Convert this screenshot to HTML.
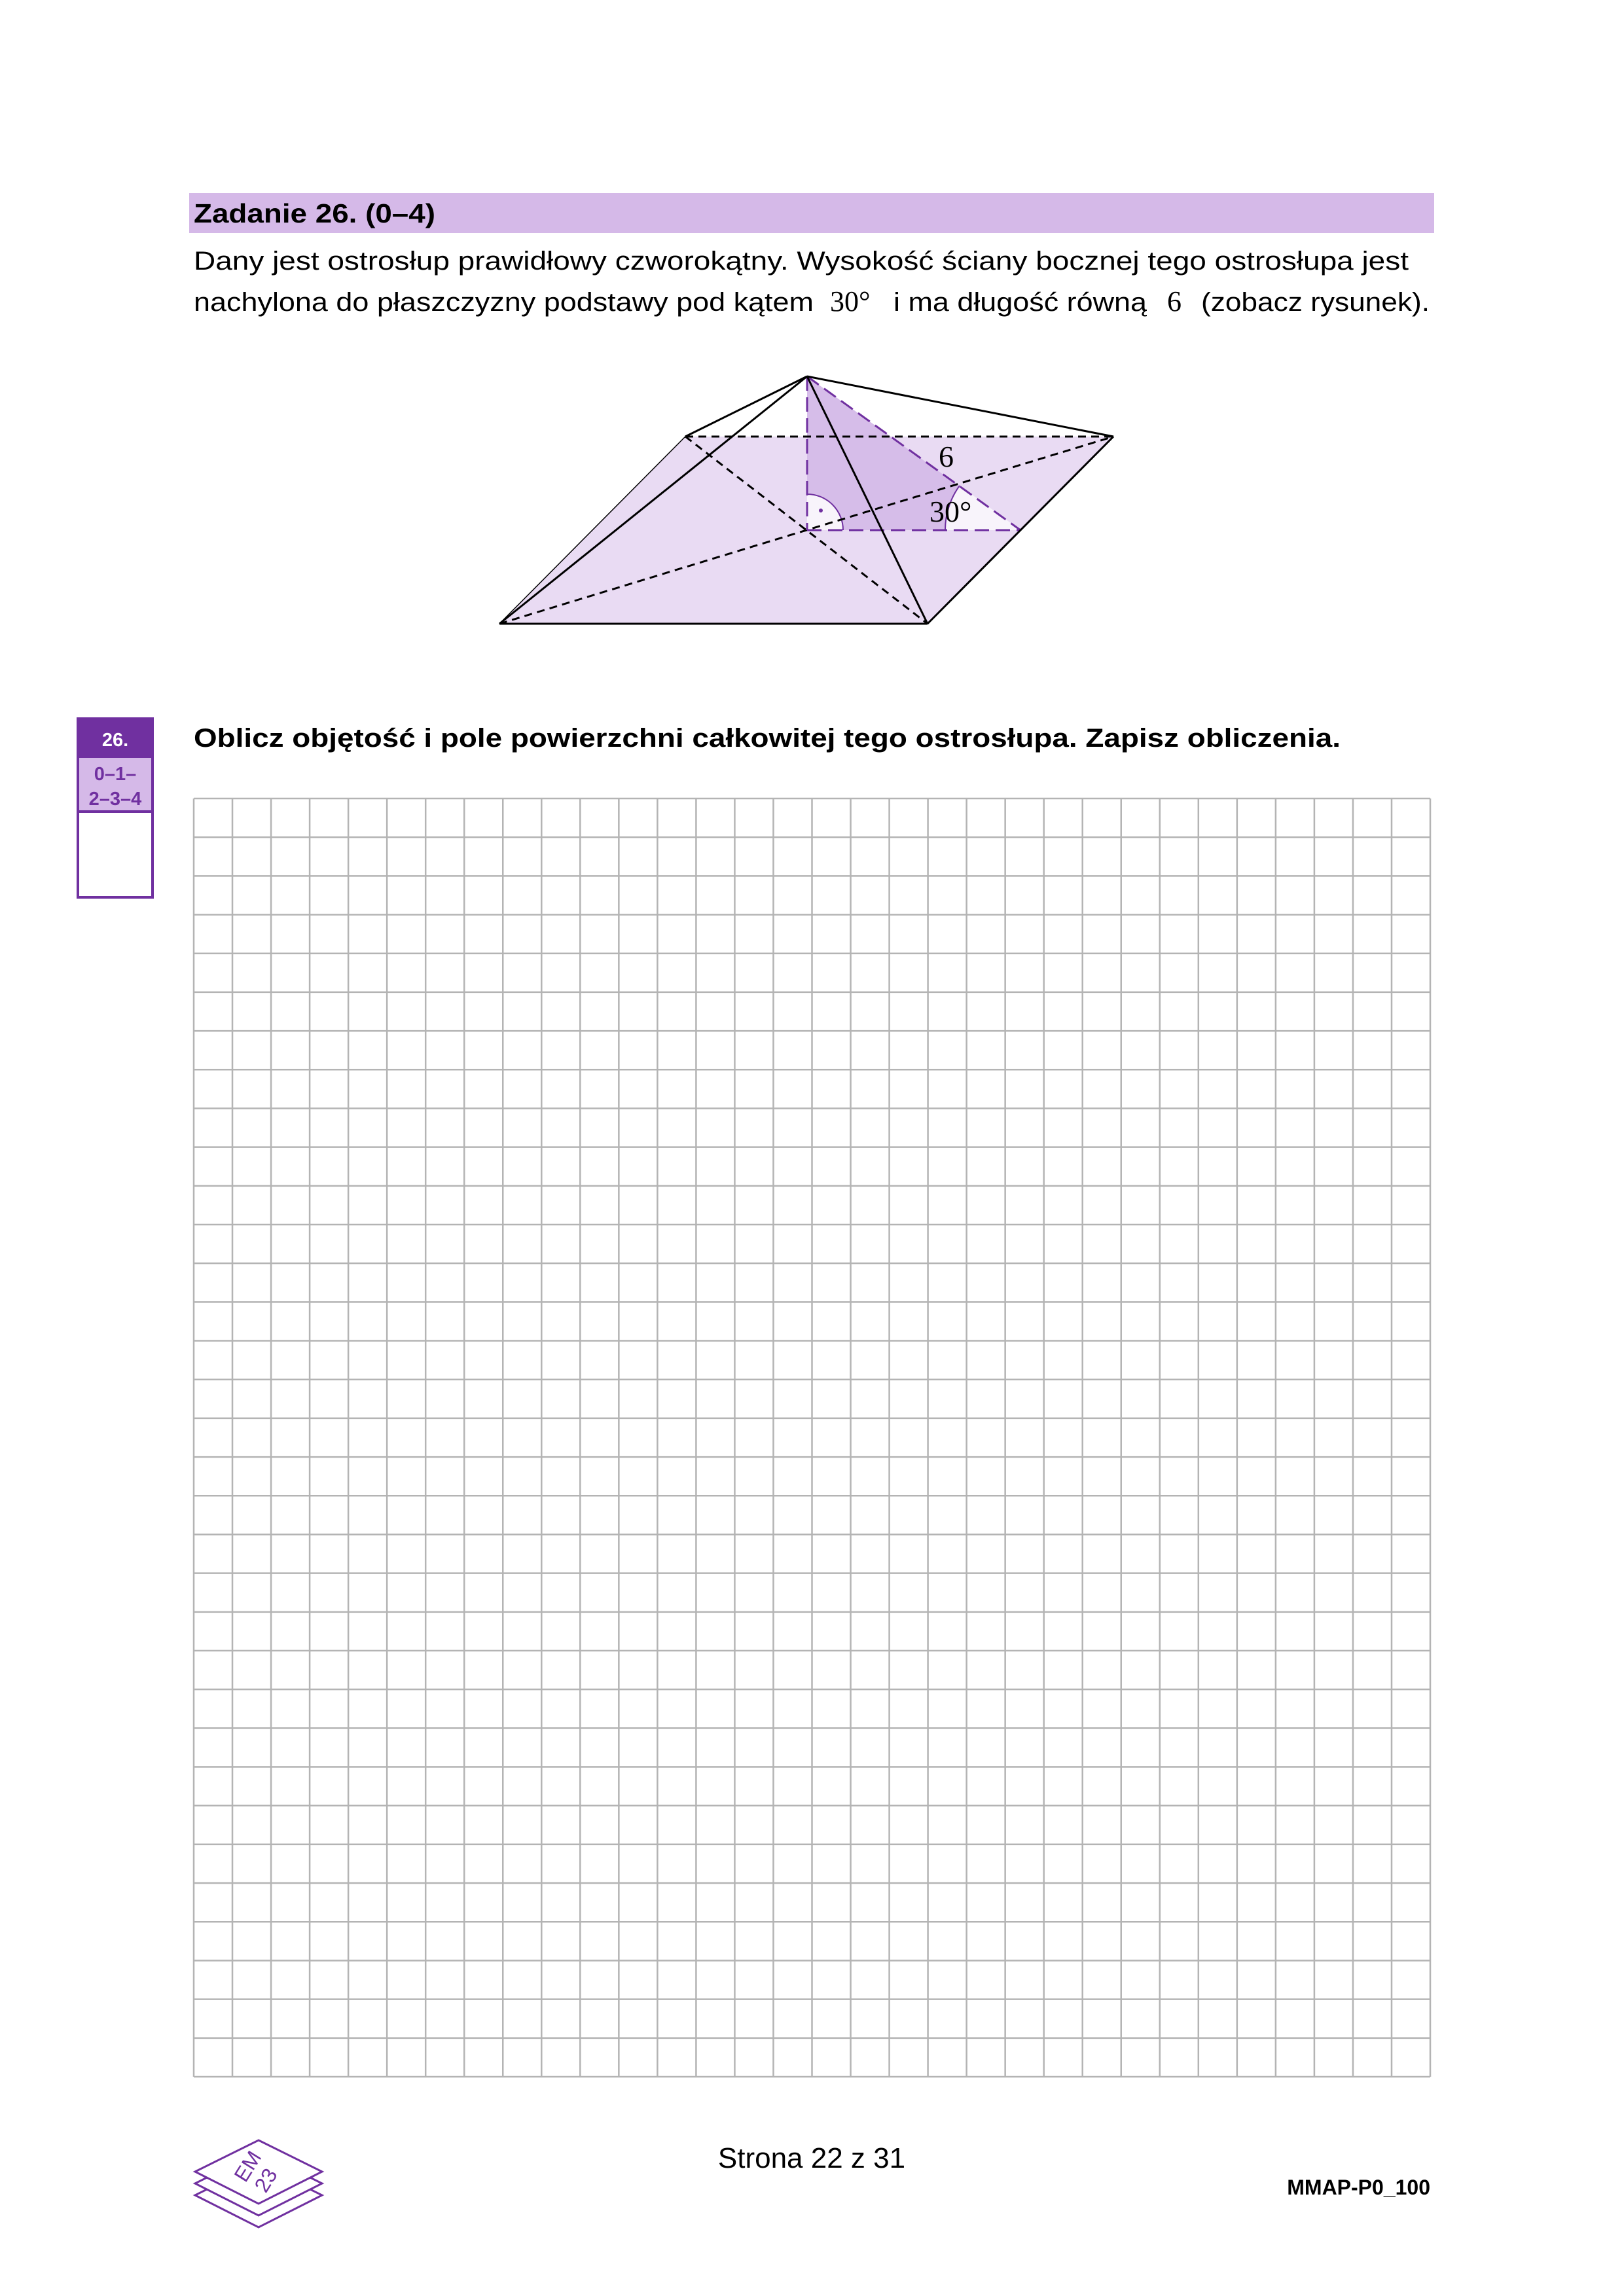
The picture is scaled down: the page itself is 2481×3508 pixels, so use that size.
<!DOCTYPE html>
<html><head><meta charset="utf-8"><style>
html,body{margin:0;padding:0;background:#fff}
svg{display:block}
.sans{font-family:"Liberation Sans",sans-serif}
.serif{font-family:"Liberation Serif",serif}
</style></head><body>
<svg width="2481" height="3508" viewBox="0 0 2481 3508" xmlns="http://www.w3.org/2000/svg" class="sans">
<rect x="289" y="295" width="1902" height="61" fill="#d5b9e8"/>
<text class="sans" x="296" y="340" font-size="41" font-weight="bold" textLength="369" lengthAdjust="spacingAndGlyphs">Zadanie 26. (0–4)</text>
<text class="sans" x="296" y="412" font-size="40" textLength="1856" lengthAdjust="spacingAndGlyphs">Dany jest ostrosłup prawidłowy czworokątny. Wysokość ściany bocznej tego ostrosłupa jest</text>
<g>
<text class="sans" x="296" y="475" font-size="40" textLength="947" lengthAdjust="spacingAndGlyphs">nachylona do płaszczyzny podstawy pod kątem</text>
<text class="serif" x="1268" y="475" font-size="44">30°</text>
<text class="sans" x="1365" y="475" font-size="40" textLength="387" lengthAdjust="spacingAndGlyphs">i ma długość równą</text>
<text class="serif" x="1783" y="475" font-size="44">6</text>
<text class="sans" x="1835" y="475" font-size="40" textLength="349" lengthAdjust="spacingAndGlyphs">(zobacz rysunek).</text>
</g>

<g>
<polygon points="763,953 1417,953 1701,667 1047,667" fill="#e9dbf3"/>
<polygon points="1233,575 1233,810 1559,810" fill="#d6bde9"/>
<path d="M1233,810 L1233,755 A55,55 0 0 1 1288,810 Z" fill="#f8f4fb"/>
<path d="M1559,810 L1444,810 A115,115 0 0 1 1466,742 Z" fill="#f8f4fb"/>
<path d="M1233,755 A55,55 0 0 1 1288,810" fill="none" stroke="#7030a0" stroke-width="2"/>
<path d="M1444,810 A115,115 0 0 1 1466,742" fill="none" stroke="#7030a0" stroke-width="2"/>
<circle cx="1254" cy="780" r="3" fill="#7030a0"/>
<g stroke="#000" stroke-width="3" stroke-dasharray="12,8" fill="none">
<line x1="1047" y1="667" x2="1701" y2="667"/>
<line x1="763" y1="953" x2="1701" y2="667"/>
<line x1="1047" y1="667" x2="1417" y2="953"/>
</g>
<g stroke="#7030a0" stroke-width="3" stroke-dasharray="22,10" fill="none">
<line x1="1233" y1="575" x2="1233" y2="810"/>
<line x1="1233" y1="810" x2="1559" y2="810"/>
<line x1="1233" y1="575" x2="1559" y2="810"/>
</g>
<g stroke="#000" stroke-width="3" fill="none">
<line x1="763" y1="953" x2="1417" y2="953"/>
<line x1="1417" y1="953" x2="1701" y2="667"/>
<line x1="1233" y1="575" x2="1047" y2="667"/>
<line x1="1233" y1="575" x2="1701" y2="667"/>
<line x1="1233" y1="575" x2="763" y2="953"/>
<line x1="1233" y1="575" x2="1417" y2="953"/>
</g>
<line x1="763" y1="953" x2="1047" y2="667" stroke="#000" stroke-width="1.5"/>
<text class="serif" x="1434" y="713" font-size="46">6</text>
<text class="serif" x="1420" y="797" font-size="46">30°</text>
</g>

<g>
<rect x="119" y="1098" width="114" height="273" fill="#fff" stroke="#7030a0" stroke-width="4"/>
<rect x="119" y="1098" width="114" height="60" fill="#7030a0"/>
<rect x="121" y="1158" width="110" height="82" fill="#d5b9e8"/>
<line x1="119" y1="1240" x2="233" y2="1240" stroke="#7030a0" stroke-width="4"/>
<text class="sans" x="176" y="1140" font-size="29" font-weight="bold" fill="#fff" text-anchor="middle">26.</text>
<text class="sans" x="176" y="1192" font-size="29" font-weight="bold" fill="#7030a0" text-anchor="middle">0–1–</text>
<text class="sans" x="176" y="1230" font-size="29" font-weight="bold" fill="#7030a0" text-anchor="middle">2–3–4</text>
</g>
<text class="sans" x="296" y="1141" font-size="40" font-weight="bold" textLength="1752" lengthAdjust="spacingAndGlyphs">Oblicz objętość i pole powierzchni całkowitej tego ostrosłupa. Zapisz obliczenia.</text>

<g id="grid" stroke="#b4b4b4" stroke-width="2.5"></g>

<g fill="none" stroke="#7030a0" stroke-width="3">
<polygon points="395,3306 492,3354 395,3403 298,3354"/>
<polygon points="395,3288 492,3336 395,3385 298,3336" fill="#fff"/>
<polygon points="395,3270 492,3318 395,3367 298,3318" fill="#fff"/>
<text class="sans" x="0" y="0" font-size="32" fill="#7030a0" stroke="none" transform="translate(375,3336) rotate(-58)">EM</text>
<text class="sans" x="0" y="0" font-size="32" fill="#7030a0" stroke="none" transform="translate(406,3352) rotate(-58)">23</text>
</g>
<text class="sans" x="1240" y="3312" font-size="44" text-anchor="middle">Strona 22 z 31</text>
<text class="sans" x="2185" y="3353" font-size="32" font-weight="bold" text-anchor="end">MMAP-P0_100</text>
</svg>
<script>
const gridCols = 32;
const gridRows = 33;
const g = document.getElementById('grid');
const x0 = 296, y0 = 1220, x1 = 2185, y1 = 3173;
const ns = 'http://www.w3.org/2000/svg';
for (let i = 0; i <= gridCols; i++) {
  const x = x0 + (x1 - x0) * i / gridCols;
  const l = document.createElementNS(ns, 'line');
  
  
  l.setAttribute('x1', x); l.setAttribute('x2', x);
  l.setAttribute('y1', y0); l.setAttribute('y2', y1);
  g.appendChild(l);
}
for (let j = 0; j <= gridRows; j++) {
  const y = y0 + (y1 - y0) * j / gridRows;
  const l = document.createElementNS(ns, 'line');
  
  
  l.setAttribute('x1', x0); l.setAttribute('x2', x1);
  l.setAttribute('y1', y); l.setAttribute('y2', y);
  g.appendChild(l);
}
</script>
</body></html>
